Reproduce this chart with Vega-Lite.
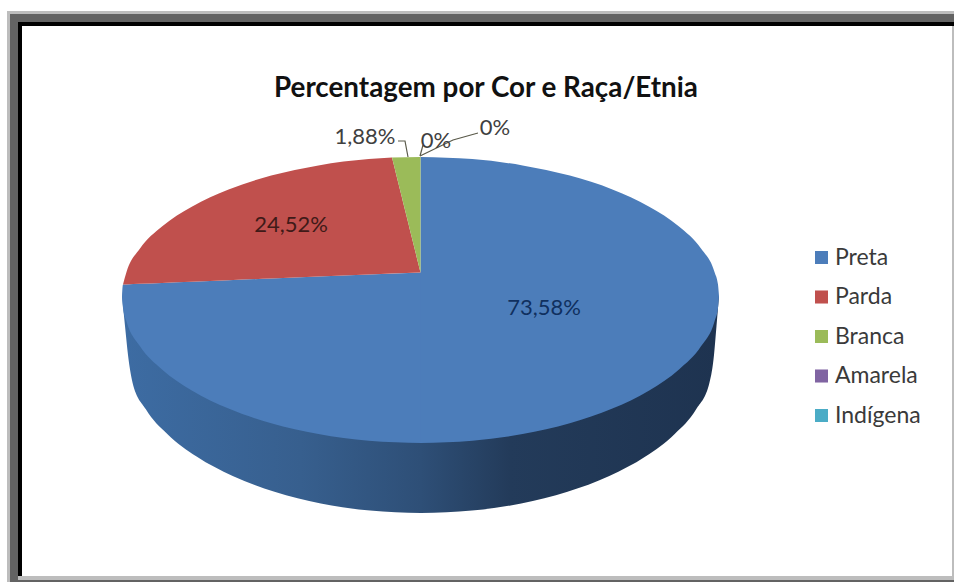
{
  "$schema": "https://vega.github.io/schema/vega-lite/v6.json",
  "width": 954,
  "height": 582,
  "padding": 0,
  "autosize": "none",
  "background": "white",
  "view": {"stroke": null},
  "title": {
    "text": "Percentagem por Cor e Raça/Etnia",
    "anchor": "start",
    "frame": "group",
    "dx": 274,
    "dy": 125,
    "offset": 0,
    "baseline": "alphabetic",
    "font": "Lato",
    "fontSize": 27.8,
    "fontWeight": "bold",
    "color": "#111111"
  },
  "datasets": {
    "moldura_clara": [
      {"x": 7, "x2": 954, "y": 11, "y2": 14},
      {"x": 7, "x2": 10, "y": 11, "y2": 582},
      {"x": 18, "x2": 954, "y": 576, "y2": 580},
      {"x": 952, "x2": 954, "y": 26, "y2": 580}
    ],
    "moldura_escura": [
      {"x": 10, "x2": 954, "y": 14, "y2": 22},
      {"x": 10, "x2": 18, "y": 14, "y2": 582},
      {"x": 10, "x2": 954, "y": 580, "y2": 582}
    ],
    "moldura_preta": [
      {"x": 18, "x2": 954, "y": 22, "y2": 26},
      {"x": 18, "x2": 22, "y": 22, "y2": 576}
    ],
    "parede": [
      {"x": 122, "y": 296, "y2": 296},
      {"x": 125, "y": 296, "y2": 326},
      {"x": 128, "y": 296, "y2": 355},
      {"x": 132.5, "y": 296, "y2": 382.4},
      {"x": 145.7, "y": 296, "y2": 409},
      {"x": 167.3, "y": 296, "y2": 434},
      {"x": 196.6, "y": 296, "y2": 456.6},
      {"x": 232.7, "y": 296, "y2": 476},
      {"x": 274.5, "y": 296, "y2": 491.8},
      {"x": 320.8, "y": 296, "y2": 503.5},
      {"x": 370.1, "y": 296, "y2": 510.6},
      {"x": 421, "y": 296, "y2": 513},
      {"x": 471.9, "y": 296, "y2": 510.6},
      {"x": 521.2, "y": 296, "y2": 503.5},
      {"x": 567.5, "y": 296, "y2": 491.8},
      {"x": 609.3, "y": 296, "y2": 476},
      {"x": 645.4, "y": 296, "y2": 456.6},
      {"x": 674.7, "y": 296, "y2": 434},
      {"x": 696.3, "y": 296, "y2": 409},
      {"x": 709.5, "y": 296, "y2": 382.4},
      {"x": 714, "y": 296, "y2": 355},
      {"x": 716.5, "y": 296, "y2": 326},
      {"x": 719, "y": 296, "y2": 296}
    ],
    "fatias_curvas": [
      {"cor": "Preta", "parte": "esquerda", "x": 122, "y": 296, "y2": 296},
      {"cor": "Preta", "parte": "esquerda", "x": 123, "y": 284.5, "y2": 308},
      {"cor": "Preta", "parte": "esquerda", "x": 126.5, "y": 284.4, "y2": 321.5},
      {"cor": "Preta", "parte": "esquerda", "x": 140, "y": 283.8, "y2": 346.3},
      {"cor": "Preta", "parte": "esquerda", "x": 162, "y": 282.9, "y2": 369.5},
      {"cor": "Preta", "parte": "esquerda", "x": 191.8, "y": 281.7, "y2": 390.5},
      {"cor": "Preta", "parte": "esquerda", "x": 228.6, "y": 280.2, "y2": 408.6},
      {"cor": "Preta", "parte": "esquerda", "x": 271.2, "y": 278.5, "y2": 423.3},
      {"cor": "Preta", "parte": "esquerda", "x": 318.4, "y": 276.6, "y2": 434.1},
      {"cor": "Preta", "parte": "esquerda", "x": 368.7, "y": 274.6, "y2": 440.8},
      {"cor": "Preta", "parte": "esquerda", "x": 422, "y": 272.5, "y2": 443},
      {"cor": "Preta", "parte": "direita", "x": 420.5, "y": 157, "y2": 443},
      {"cor": "Preta", "parte": "direita", "x": 472.3, "y": 159.1, "y2": 440.8},
      {"cor": "Preta", "parte": "direita", "x": 522.6, "y": 165.4, "y2": 434.1},
      {"cor": "Preta", "parte": "direita", "x": 569.8, "y": 175.6, "y2": 423.3},
      {"cor": "Preta", "parte": "direita", "x": 612.4, "y": 189.5, "y2": 408.6},
      {"cor": "Preta", "parte": "direita", "x": 649.2, "y": 206.7, "y2": 390.5},
      {"cor": "Preta", "parte": "direita", "x": 679, "y": 226.5, "y2": 369.5},
      {"cor": "Preta", "parte": "direita", "x": 701, "y": 248.5, "y2": 346.3},
      {"cor": "Preta", "parte": "direita", "x": 714.5, "y": 271.9, "y2": 321.5},
      {"cor": "Preta", "parte": "direita", "x": 718, "y": 284.6, "y2": 308},
      {"cor": "Preta", "parte": "direita", "x": 719, "y": 296, "y2": 296},
      {"cor": "Parda", "parte": "arco", "x": 123, "y": 284.5, "y2": 284.5},
      {"cor": "Parda", "parte": "arco", "x": 126.5, "y": 271.9, "y2": 284.4},
      {"cor": "Parda", "parte": "arco", "x": 140, "y": 248.5, "y2": 283.8},
      {"cor": "Parda", "parte": "arco", "x": 162, "y": 226.5, "y2": 282.9},
      {"cor": "Parda", "parte": "arco", "x": 191.8, "y": 206.7, "y2": 281.7},
      {"cor": "Parda", "parte": "arco", "x": 228.6, "y": 189.5, "y2": 280.2},
      {"cor": "Parda", "parte": "arco", "x": 271.2, "y": 175.6, "y2": 278.5},
      {"cor": "Parda", "parte": "arco", "x": 318.4, "y": 165.4, "y2": 276.6},
      {"cor": "Parda", "parte": "arco", "x": 368.7, "y": 159.1, "y2": 274.6},
      {"cor": "Parda", "parte": "arco", "x": 392, "y": 157.6, "y2": 273.6}
    ],
    "fatias_retas": [
      {"cor": "Parda", "parte": "ponta", "x": 392, "y": 157.6, "y2": 273.6},
      {"cor": "Parda", "parte": "ponta", "x": 420.5, "y": 272.5, "y2": 272.5},
      {"cor": "Branca", "parte": "cunha", "x": 392, "y": 157.6, "y2": 157.6},
      {"cor": "Branca", "parte": "cunha", "x": 420.5, "y": 157, "y2": 272.5}
    ],
    "guias": [
      {"guia": "branca", "ordem": 1, "x": 398, "y": 141},
      {"guia": "branca", "ordem": 2, "x": 405, "y": 141},
      {"guia": "branca", "ordem": 3, "x": 408, "y": 157},
      {"guia": "amarela", "ordem": 1, "x": 420, "y": 156},
      {"guia": "amarela", "ordem": 2, "x": 423, "y": 145},
      {"guia": "indigena", "ordem": 1, "x": 478, "y": 133},
      {"guia": "indigena", "ordem": 2, "x": 453, "y": 140},
      {"guia": "indigena", "ordem": 3, "x": 420, "y": 156}
    ],
    "rotulos_fatias": [
      {"cor": "Preta", "pct": 73.58, "rotulo": "73,58%", "x": 544, "y": 308},
      {"cor": "Parda", "pct": 24.52, "rotulo": "24,52%", "x": 291, "y": 225}
    ],
    "rotulos_externos": [
      {"cor": "Branca", "pct": 1.88, "rotulo": "1,88%", "x": 365, "y": 137},
      {"cor": "Amarela", "pct": 0, "rotulo": "0%", "x": 436, "y": 141},
      {"cor": "Indígena", "pct": 0, "rotulo": "0%", "x": 495, "y": 128}
    ]
  },
  "encoding": {
    "x": {"field": "x", "type": "quantitative", "axis": null,
      "scale": {"domain": [0, 954], "range": [0, 954], "nice": false, "zero": false}},
    "y": {"field": "y", "type": "quantitative", "axis": null,
      "scale": {"domain": [0, 582], "range": [0, 582], "nice": false, "zero": false}}
  },
  "layer": [
    {
      "data": {"name": "moldura_clara"},
      "mark": {"type": "rect", "color": "#bdbdbd"},
      "encoding": {"x2": {"field": "x2"}, "y2": {"field": "y2"}}
    },
    {
      "data": {"name": "moldura_escura"},
      "mark": {"type": "rect", "color": "#636363"},
      "encoding": {"x2": {"field": "x2"}, "y2": {"field": "y2"}}
    },
    {
      "data": {"name": "moldura_preta"},
      "mark": {"type": "rect", "color": "#000000"},
      "encoding": {"x2": {"field": "x2"}, "y2": {"field": "y2"}}
    },
    {
      "data": {"name": "parede"},
      "mark": {
        "type": "area",
        "orient": "vertical",
        "interpolate": "monotone",
        "color": {
          "gradient": "linear", "x1": 0, "y1": 0, "x2": 1, "y2": 0,
          "stops": [
            {"offset": 0, "color": "#3d6ca3"},
            {"offset": 0.3, "color": "#375f8e"},
            {"offset": 0.5, "color": "#2e4f77"},
            {"offset": 0.65, "color": "#233b5a"},
            {"offset": 1, "color": "#1e3350"}
          ]
        }
      },
      "encoding": {"y2": {"field": "y2"}}
    },
    {
      "data": {"name": "fatias_curvas"},
      "mark": {"type": "area", "orient": "vertical", "interpolate": "monotone"},
      "encoding": {
        "y2": {"field": "y2"},
        "detail": {"field": "parte"},
        "color": {
          "field": "cor",
          "type": "nominal",
          "scale": {
            "domain": ["Preta", "Parda", "Branca", "Amarela", "Indígena"],
            "range": ["#4c7dba", "#c0504d", "#9bbb59", "#8064a2", "#4bacc6"]
          },
          "legend": {
            "orient": "none",
            "legendX": 810,
            "legendY": 246,
            "title": null,
            "padding": 0,
            "symbolType": "square",
            "symbolSize": 170,
            "symbolStrokeWidth": 0,
            "labelFont": "Lato",
            "labelFontSize": 23,
            "labelColor": "#3a3a3a",
            "labelOffset": 2,
            "rowPadding": 15.5,
            "values": ["Preta", "Parda", "Branca", "Amarela", "Indígena"]
          }
        }
      }
    },
    {
      "data": {"name": "fatias_retas"},
      "mark": {"type": "area", "orient": "vertical", "interpolate": "linear"},
      "encoding": {
        "y2": {"field": "y2"},
        "detail": {"field": "parte"},
        "color": {"field": "cor", "type": "nominal"}
      }
    },
    {
      "data": {"name": "guias"},
      "mark": {"type": "line", "color": "#5a5a4a", "strokeWidth": 1.2},
      "encoding": {
        "detail": {"field": "guia"},
        "order": {"field": "ordem", "type": "ordinal"}
      }
    },
    {
      "data": {"name": "rotulos_fatias"},
      "transform": [{"filter": "datum.cor === 'Preta'"}],
      "mark": {"type": "text", "font": "Lato", "fontSize": 22, "color": "#10305f"},
      "encoding": {"text": {"field": "rotulo"}}
    },
    {
      "data": {"name": "rotulos_fatias"},
      "transform": [{"filter": "datum.cor === 'Parda'"}],
      "mark": {"type": "text", "font": "Lato", "fontSize": 22, "color": "#3f1a18"},
      "encoding": {"text": {"field": "rotulo"}}
    },
    {
      "data": {"name": "rotulos_externos"},
      "mark": {"type": "text", "font": "Lato", "fontSize": 22, "color": "#404040"},
      "encoding": {"text": {"field": "rotulo"}}
    }
  ]
}
